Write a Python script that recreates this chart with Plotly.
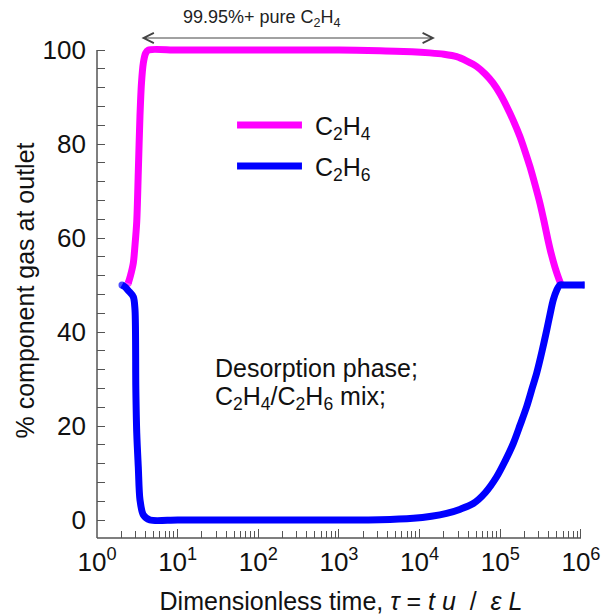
import plotly.graph_objects as go

# ---- data ----
tau_c2h4 = [2.44, 2.6, 2.82, 2.96, 3.11, 3.25, 3.41, 3.56, 3.75, 4.0, 4.32, 10, 100, 1000,
            3220, 8000, 13400, 20000, 28800, 38000, 50900, 65000, 81100, 100000, 120000,
            145000, 175000, 203000, 233000, 270000, 310000, 350000, 390000, 430000,
            476000, 520000, 560000]
pct_c2h4 = [50.4, 52.0, 54.7, 58.5, 63.5, 74.0, 86.0, 93.0, 97.2, 99.3, 100, 100, 100, 100,
            99.85, 99.65, 99.4, 99.1, 98.6, 97.7, 96.5, 94.9, 93.0, 90.6, 88.0,
            85.0, 81.6, 78.4, 75.2, 71.3, 67.4, 63.4, 59.6, 56.5,
            53.8, 51.8, 50.3]

tau_c2h6 = [2.04, 2.22, 2.45, 2.82, 2.96, 3.03, 3.11, 3.25, 3.41, 3.75, 4.54, 10, 100, 1000,
            3220, 8340, 14000, 21600, 32000, 46200, 65000, 90200, 115000, 145000, 176000,
            212000, 245000, 283000, 330000, 376000, 415000, 453000, 500000,
            548000, 620000, 1096000]
pct_c2h6 = [50, 49.6, 48.8, 47.5, 44.7, 28.0, 18.5, 11.3, 4.3, 1.1, 0, 0, 0, 0,
            0.05, 0.36, 0.8, 1.4, 2.3, 3.5, 5.8, 9.2, 12.6, 16.3, 20.2,
            24.1, 27.7, 31.3, 36.0, 40.4, 43.9, 46.8, 48.9,
            50, 50, 50]

x_tickvals = [1, 10, 100, 1000, 10000, 100000, 1000000]
x_ticktext = ["10<sup>0</sup>", "10<sup>1</sup>", "10<sup>2</sup>", "10<sup>3</sup>",
              "10<sup>4</sup>", "10<sup>5</sup>", "10<sup>6</sup>"]
x_minor = [m * 10 ** d for d in range(6) for m in range(2, 10)]
y_tickvals = [0, 20, 40, 60, 80, 100]
y_minor = list(range(0, 101, 4))

series_names = ["C<sub>2</sub>H<sub>4</sub>", "C<sub>2</sub>H<sub>6</sub>"]
series_colors = ["#FF00FF", "#0000FF"]

FONT = "Liberation Sans, Arial, sans-serif"
TXT = "#111111"

fig = go.Figure()


def cap_sizes(n, first=True, last=True, s=7):
    sizes = [0] * n
    if first:
        sizes[0] = s
    if last:
        sizes[-1] = s
    return sizes


fig.add_trace(go.Scatter(
    x=tau_c2h4, y=pct_c2h4, mode="lines+markers", name=series_names[0],
    line=dict(color=series_colors[0], width=7, shape="spline", smoothing=0.8),
    marker=dict(color=series_colors[0], size=cap_sizes(len(tau_c2h4), True, False), line=dict(width=0)),
    showlegend=False))
fig.add_trace(go.Scatter(
    x=tau_c2h6, y=pct_c2h6, mode="lines+markers", name=series_names[1],
    line=dict(color=series_colors[1], width=7, shape="spline", smoothing=0.8),
    marker=dict(color=series_colors[1], size=cap_sizes(len(tau_c2h6)), line=dict(width=0)),
    showlegend=False))

axis_col = "#555555"

fig.update_layout(
    width=608, height=616,
    margin=dict(l=97, r=23, t=43, b=78, pad=0),
    paper_bgcolor="white", plot_bgcolor="white",
    font=dict(family=FONT, size=24, color=TXT),
    xaxis=dict(
        type="log", range=[0, 6.05], showgrid=False, zeroline=False, showline=False,
        tickmode="array", tickvals=x_tickvals, ticktext=x_ticktext,
        ticks="inside", ticklen=9, tickwidth=1.3, tickcolor=axis_col,
        tickfont=dict(size=26, family=FONT, color=TXT),
        ticklabelstandoff=6,
        minor=dict(tickmode="array", tickvals=x_minor, ticks="inside", ticklen=7,
                   tickwidth=1.3, tickcolor=axis_col, showgrid=False),
        title=dict(text="Dimensionless time, <i>τ</i> = <i>t u</i>  /  <i>ε L</i>",
                   font=dict(size=25, family=FONT, color=TXT), standoff=16),
        automargin=False,
    ),
    yaxis=dict(
        range=[-3.83, 101.5], showgrid=False, zeroline=False, showline=False,
        tickmode="array", tickvals=y_tickvals,
        ticks="inside", ticklen=8, tickwidth=1.3, tickcolor=axis_col,
        tickfont=dict(size=26, family=FONT, color=TXT),
        minor=dict(tickmode="array", tickvals=y_minor, ticks="inside", ticklen=8,
                   tickwidth=1.3, tickcolor=axis_col, showgrid=False),
        ticklabelstandoff=10,
        title=dict(text="% component gas at outlet",
                   font=dict(size=25, family=FONT, color=TXT), standoff=0),
        automargin=False,
    ),
    shapes=[
        dict(type="line", xref="paper", yref="paper", x0=0, x1=0, y0=0, y1=0.9859,
             line=dict(color=axis_col, width=1.5)),
        dict(type="line", xref="paper", yref="paper", x0=0, x1=0.9918, y0=0, y1=0,
             line=dict(color=axis_col, width=1.5)),
        # legend swatches
        dict(type="line", xref="paper", yref="paper", x0=0.287, x1=0.420, y0=0.8343, y1=0.8343,
             line=dict(color=series_colors[0], width=7)),
        dict(type="line", xref="paper", yref="paper", x0=0.287, x1=0.420, y0=0.7515, y1=0.7515,
             line=dict(color=series_colors[1], width=7)),
    ],
    annotations=[
        dict(xref="paper", yref="paper", x=0.4426, y=0.8283, xanchor="left", yanchor="middle",
             text=series_names[0], showarrow=False, font=dict(size=25, family=FONT, color=TXT)),
        dict(xref="paper", yref="paper", x=0.4426, y=0.7455, xanchor="left", yanchor="middle",
             text=series_names[1], showarrow=False, font=dict(size=25, family=FONT, color=TXT)),
        dict(xref="paper", yref="paper", x=0.2377, y=0.3434, xanchor="left", yanchor="middle",
             text="Desorption phase;", showarrow=False,
             font=dict(size=25, family=FONT, color=TXT)),
        dict(xref="paper", yref="paper", x=0.2377, y=0.2828, xanchor="left", yanchor="middle",
             text="C<sub>2</sub>H<sub>4</sub>/C<sub>2</sub>H<sub>6</sub> mix;",
             showarrow=False, font=dict(size=25, family=FONT, color=TXT)),
        dict(xref="paper", yref="paper", x=0.1721, y=1.0505, xanchor="left", yanchor="middle",
             text="99.95%+ pure C<sub>2</sub>H<sub>4</sub>", showarrow=False,
             font=dict(size=18, family=FONT, color="#222222")),
        dict(xref="paper", yref="paper", x=0.6926, y=1.0101, ax=-295, ay=0,
             text="", showarrow=True, arrowside="end+start", arrowhead=5, arrowsize=2,
             arrowwidth=1, arrowcolor="#444444", standoff=0, startstandoff=0),
    ],
)

fig.write_html("out.html")
